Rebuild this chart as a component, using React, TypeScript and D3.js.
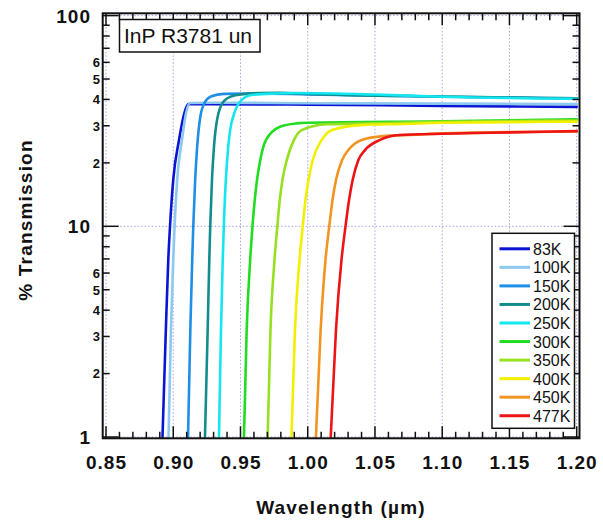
import React from 'react';
import * as d3 from 'd3';

// ---------- data ----------
const seriesLabels = ['83K', '100K', '150K', '200K', '250K', '300K', '350K', '400K', '450K', '477K'];
const seriesColors = ['#0a14d2', '#8cc8f0', '#1e8ee6', '#128c8c', '#14e6f0', '#22dc22', '#96e020', '#f2f000', '#f29422', '#ec1414'];

const wl83 = [0.892, 0.8945, 0.8963, 0.8976, 0.9, 0.9043, 0.9082, 0.9112, 0.93, 1.0, 1.1, 1.2];
const tr83 = [1.0, 3.22, 6.92, 10, 16.6, 25.7, 34.4, 38.0, 38.0, 37.8, 37.3, 36.9];

const wl100 = [0.8965, 0.8983, 0.9, 0.901, 0.9029, 0.9065, 0.9095, 0.9125, 0.93, 1.0, 1.1, 1.2];
const tr100 = [1.0, 3.22, 6.92, 10, 16.6, 25.7, 34.4, 38.5, 38.6, 38.4, 38.2, 38.0];

const wl150 = [0.911, 0.9127, 0.9141, 0.9149, 0.9163, 0.9178, 0.9201, 0.9232, 0.9284, 0.9377, 0.96, 1.0, 1.1, 1.2];
const tr150 = [1.0, 3.22, 6.92, 10, 16.6, 23.9, 33.0, 38.4, 41.4, 42.5, 42.7, 42.3, 41.2, 40.5];

const wl200 = [0.9236, 0.9256, 0.9268, 0.9275, 0.9288, 0.9303, 0.9336, 0.9385, 0.9472, 0.9645, 0.98, 1.0, 1.1, 1.2];
const tr200 = [1.0, 3.22, 6.92, 10, 16.6, 23.9, 34.4, 39.8, 42.0, 42.9, 43.0, 42.5, 41.3, 40.5];

const wl250 = [0.934, 0.9355, 0.9368, 0.9376, 0.9391, 0.9409, 0.9423, 0.9454, 0.9509, 0.9583, 0.9769, 0.99, 1.05, 1.1, 1.2];
const tr250 = [1.0, 3.22, 6.92, 10, 16.6, 23.9, 28.6, 34.4, 39.8, 42.0, 42.7, 42.9, 42.2, 41.2, 40.3];

const wl300 = [0.9526, 0.9546, 0.9572, 0.9589, 0.9606, 0.9623, 0.9647, 0.969, 0.9794, 0.9918, 1.0, 1.1, 1.2];
const tr300 = [1.0, 3.22, 6.92, 10, 13.3, 16.6, 20.6, 25.7, 29.7, 30.8, 31.0, 31.5, 32.2];

const wl350 = [0.9702, 0.9723, 0.9753, 0.9774, 0.9792, 0.9812, 0.9844, 0.9898, 0.9955, 1.0141, 1.05, 1.1, 1.2];
const tr350 = [1.0, 3.22, 6.92, 10, 13.3, 16.6, 20.6, 25.7, 28.6, 30.5, 30.8, 31.3, 31.8];

const wl400 = [0.9879, 0.9905, 0.9939, 0.9963, 0.9983, 1.0006, 1.0037, 1.0104, 1.0178, 1.0411, 1.07, 1.1, 1.2];
const tr400 = [1.0, 3.22, 6.92, 10, 13.3, 16.6, 20.6, 25.7, 28.6, 30.3, 30.6, 31.0, 31.4];

const wl450 = [1.0061, 1.0096, 1.0132, 1.016, 1.0184, 1.021, 1.0255, 1.0302, 1.0401, 1.056, 1.08, 1.1, 1.2];
const tr450 = [1.0, 3.22, 6.92, 10, 13.3, 16.6, 20.6, 23.0, 25.7, 26.8, 27.2, 27.6, 28.2];

const wl477 = [1.0171, 1.021, 1.0251, 1.0281, 1.0307, 1.0334, 1.0376, 1.0426, 1.0537, 1.0686, 1.1, 1.15, 1.2];
const tr477 = [1.0, 3.22, 6.92, 10, 13.3, 16.6, 20.6, 23.0, 25.7, 27.1, 27.5, 27.9, 28.3];

const wavelengths = [wl83, wl100, wl150, wl200, wl250, wl300, wl350, wl400, wl450, wl477];
const transmissions = [tr83, tr100, tr150, tr200, tr250, tr300, tr350, tr400, tr450, tr477];

const xTickValues = [0.85, 0.9, 0.95, 1.0, 1.05, 1.1, 1.15, 1.2];
const xTickLabels = ['0.85', '0.90', '0.95', '1.00', '1.05', '1.10', '1.15', '1.20'];
const yMajorValues = [1, 10, 100];
const yMajorLabels = ['1', '10', '100'];
const yMinorLabelDigits = [2, 3, 4, 5, 6];

const annotation = 'InP R3781 un';
const xTitle = 'Wavelength (\u00b5m)';
const yTitle = '% Transmission';

// ---------- layout ----------
const W = 603;
const H = 524;
const frame = { left: 102.7, right: 579.5, top: 13.3, bottom: 438.3 };
const FONT = '"Liberation Sans", Arial, sans-serif';

export default function App() {
  const x = d3.scaleLinear().domain([0.85, 1.2]).range([106, 576.7]);
  const y = d3.scaleLog().domain([1, 100]).range([437, 15.6]);

  const xMinor = x.ticks(35).filter((v) => !xTickValues.some((m) => Math.abs(m - v) < 1e-6));
  const yMinor: number[] = [];
  [1, 10].forEach((dec) => {
    for (let d = 2; d <= 9; d++) yMinor.push(d * dec);
  });

  const line = d3
    .line<[number, number]>()
    .x((d) => x(d[0]))
    .y((d) => y(d[1]))
    .curve(d3.curveMonotoneX);

  const gridColor = '#a4a4e4';
  const axisColor = '#111';

  const legendLeft = 492;
  const legendRight = 574.5;
  const legendTop = 233.3;
  const legendBottom = 428.3;
  const legendFirstBaseline = 254.8;
  const legendStep = 18.55;

  return (
    <svg
      width={W}
      height={H}
      viewBox={`0 0 ${W} ${H}`}
      style={{ position: 'absolute', left: 0, top: 0, background: '#fff' }}
      fontFamily={FONT}
    >
      <defs>
        <clipPath id="plotClip">
          <rect x={frame.left} y={frame.top} width={frame.right - frame.left} height={frame.bottom - frame.top} />
        </clipPath>
      </defs>
      <rect x={0} y={0} width={W} height={H} fill="#fff" />

      {/* grid */}
      <g stroke={gridColor} strokeWidth={1} strokeDasharray="1.5,2">
        {xTickValues.map((v) => (
          <line key={'gx' + v} x1={x(v)} x2={x(v)} y1={frame.top} y2={frame.bottom} />
        ))}
        {yMajorValues.map((v) => (
          <line key={'gy' + v} x1={frame.left} x2={frame.right} y1={y(v)} y2={y(v)} />
        ))}
      </g>

      {/* curves */}
      <g clipPath="url(#plotClip)" fill="none" strokeWidth={2.6} strokeLinejoin="round" strokeLinecap="round">
        {wavelengths.map((wl, i) => {
          const pts = wl.map((w, j) => [w, transmissions[i][j]] as [number, number]);
          return <path key={seriesLabels[i]} d={line(pts) || ''} stroke={seriesColors[i]} />;
        })}
      </g>

      {/* ticks */}
      <g stroke={axisColor} strokeWidth={1.5}>
        {xTickValues.map((v) => (
          <g key={'xt' + v}>
            <line x1={x(v)} x2={x(v)} y1={frame.bottom} y2={frame.bottom - 12} />
            <line x1={x(v)} x2={x(v)} y1={frame.top} y2={frame.top + 12} />
          </g>
        ))}
        {xMinor.map((v) => (
          <g key={'xm' + v}>
            <line x1={x(v)} x2={x(v)} y1={frame.bottom} y2={frame.bottom - 6.5} />
            <line x1={x(v)} x2={x(v)} y1={frame.top} y2={frame.top + 7} />
          </g>
        ))}
        {yMajorValues.map((v) => (
          <g key={'yt' + v}>
            <line x1={frame.left} x2={frame.left + 16} y1={y(v)} y2={y(v)} />
            <line x1={frame.right} x2={frame.right - 16} y1={y(v)} y2={y(v)} />
          </g>
        ))}
        {yMinor.map((v) => (
          <g key={'ym' + v}>
            <line x1={frame.left} x2={frame.left + 7} y1={y(v)} y2={y(v)} />
            <line x1={frame.right} x2={frame.right - 7} y1={y(v)} y2={y(v)} />
          </g>
        ))}
      </g>

      {/* frame */}
      <rect
        x={frame.left}
        y={frame.top}
        width={frame.right - frame.left}
        height={frame.bottom - frame.top}
        fill="none"
        stroke={axisColor}
        strokeWidth={2}
      />

      {/* tick labels */}
      <g fontWeight="bold" fontSize={19} fill="#111" letterSpacing={1}>
        {xTickValues.map((v, i) => (
          <text key={'xl' + v} x={x(v) + 0.5} y={469.3} textAnchor="middle">
            {xTickLabels[i]}
          </text>
        ))}
        {yMajorValues.map((v, i) => (
          <text key={'yl' + v} x={91} y={y(v) + 7} textAnchor="end">
            {yMajorLabels[i]}
          </text>
        ))}
      </g>
      <g fontWeight="bold" fontSize={13} fill="#111">
        {[1, 10].flatMap((dec) =>
          yMinorLabelDigits.map((d) => (
            <text key={'ymn' + dec * d} x={100} y={y(d * dec) + 4.8} textAnchor="end">
              {String(d)}
            </text>
          ))
        )}
      </g>

      {/* axis titles */}
      <text x={341} y={513.5} textAnchor="middle" fontWeight="bold" fontSize={19} letterSpacing={1.2} fill="#111">
        {xTitle}
      </text>
      <text
        transform="translate(31.7,220) rotate(-90)"
        textAnchor="middle"
        fontWeight="bold"
        fontSize={19}
        letterSpacing={1.2}
        fill="#111"
      >
        {yTitle}
      </text>

      {/* annotation box */}
      <rect x={119.5} y={19.5} width={140.5} height={32.5} fill="#fff" stroke="#111" strokeWidth={1.5} />
      <text x={124} y={42.7} fontSize={21} fill="#111">
        {annotation}
      </text>

      {/* legend */}
      <rect
        x={legendLeft}
        y={legendTop}
        width={legendRight - legendLeft}
        height={legendBottom - legendTop}
        fill="#fff"
        stroke="#111"
        strokeWidth={1.5}
      />
      {seriesLabels.map((lab, i) => {
        const by = legendFirstBaseline + i * legendStep;
        return (
          <g key={'lg' + lab}>
            <line x1={499.5} x2={530} y1={by - 6} y2={by - 6} stroke={seriesColors[i]} strokeWidth={3} />
            <text x={533} y={by} fontSize={16} fill="#111">
              {lab}
            </text>
          </g>
        );
      })}
    </svg>
  );
}
